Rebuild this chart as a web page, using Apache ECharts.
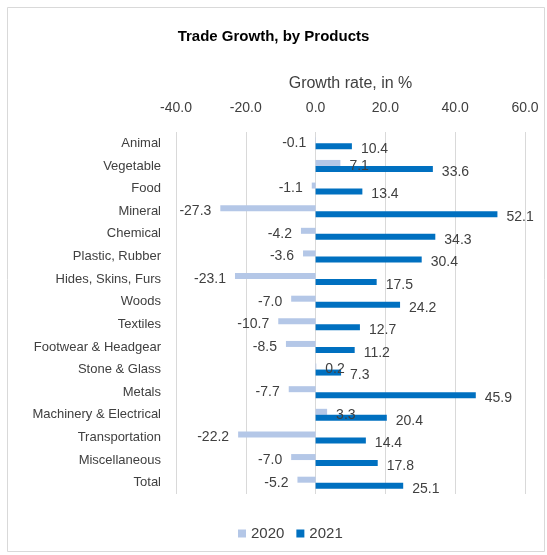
<!DOCTYPE html>
<html>
<head>
<meta charset="utf-8">
<script src="https://cdn.jsdelivr.net/npm/echarts@6/dist/echarts.min.js"></script>
<style>html,body{margin:0;padding:0;background:#fff}#c{width:547px;height:555px}</style>
</head>
<body>
<div id="c"></div>
<script>
var categories = ["Animal","Vegetable","Food","Mineral","Chemical","Plastic, Rubber","Hides, Skins, Furs","Woods","Textiles","Footwear & Headgear","Stone & Glass","Metals","Machinery & Electrical","Transportation","Miscellaneous","Total"];
var values2020 = [-0.1,7.1,-1.1,-27.3,-4.2,-3.6,-23.1,-7.0,-10.7,-8.5,0.2,-7.7,3.3,-22.2,-7.0,-5.2];
var values2021 = [10.4,33.6,13.4,52.1,34.3,30.4,17.5,24.2,12.7,11.2,7.3,45.9,20.4,14.4,17.8,25.1];
var seriesNames = ["2020","2021"];

var font = "Liberation Sans";
var textColor = "#404040";

function labelCfg(){
  return {
    show: true,
    fontFamily: font,
    fontSize: 14,
    color: textColor,
    distance: 9,
    offset: [0, 3],
    formatter: function(p){ return p.value.toFixed(1); }
  };
}
function mkData(vals){
  return vals.map(function(v){
    return { value: v, label: { position: v < 0 ? 'left' : 'right' } };
  });
}

var chart = echarts.init(document.getElementById('c'));
chart.setOption({
  animation: false,
  backgroundColor: '#fff',
  textStyle: { fontFamily: font },
  graphic: [{
    type: 'rect',
    shape: { x: 7.5, y: 7.5, width: 537, height: 544 },
    style: { fill: 'none', stroke: '#d9d9d9', lineWidth: 1 },
    silent: true
  }],
  title: {
    text: 'Trade Growth, by Products',
    left: 'center',
    top: 24,
    textStyle: { fontFamily: font, fontSize: 15, fontWeight: 'bold', color: '#000' }
  },
  legend: {
    bottom: 9,
    left: 233,
    itemWidth: 8,
    itemHeight: 8,
    itemGap: 12,
    icon: 'rect',
    textStyle: { fontFamily: font, fontSize: 15, color: textColor },
    data: seriesNames
  },
  grid: { left: 176, right: 22, top: 132, bottom: 61, containLabel: false },
  xAxis: {
    type: 'value',
    position: 'top',
    min: -40, max: 60, interval: 20,
    name: 'Growth rate, in %',
    nameLocation: 'middle',
    nameGap: 40,
    nameTextStyle: { fontFamily: font, fontSize: 16, color: textColor },
    axisLine: { show: false },
    axisTick: { show: false },
    axisLabel: { fontFamily: font, fontSize: 14, color: textColor, margin: 17,
      formatter: function(v){ return v.toFixed(1); } },
    splitLine: { show: true, lineStyle: { color: '#d9d9d9', width: 1 } }
  },
  yAxis: {
    type: 'category',
    inverse: true,
    data: categories,
    axisLine: { show: false },
    axisTick: { show: false },
    axisLabel: { fontFamily: font, fontSize: 13, color: textColor, margin: 15 }
  },
  series: [
    {
      name: seriesNames[0], type: 'bar', data: mkData(values2020),
      itemStyle: { color: '#B4C7E7' }, barWidth: 6, barGap: '0%',
      label: labelCfg()
    },
    {
      name: seriesNames[1], type: 'bar', data: mkData(values2021),
      itemStyle: { color: '#0070C0' }, barWidth: 6, barGap: '0%',
      label: labelCfg()
    }
  ]
});
</script>
</body>
</html>
